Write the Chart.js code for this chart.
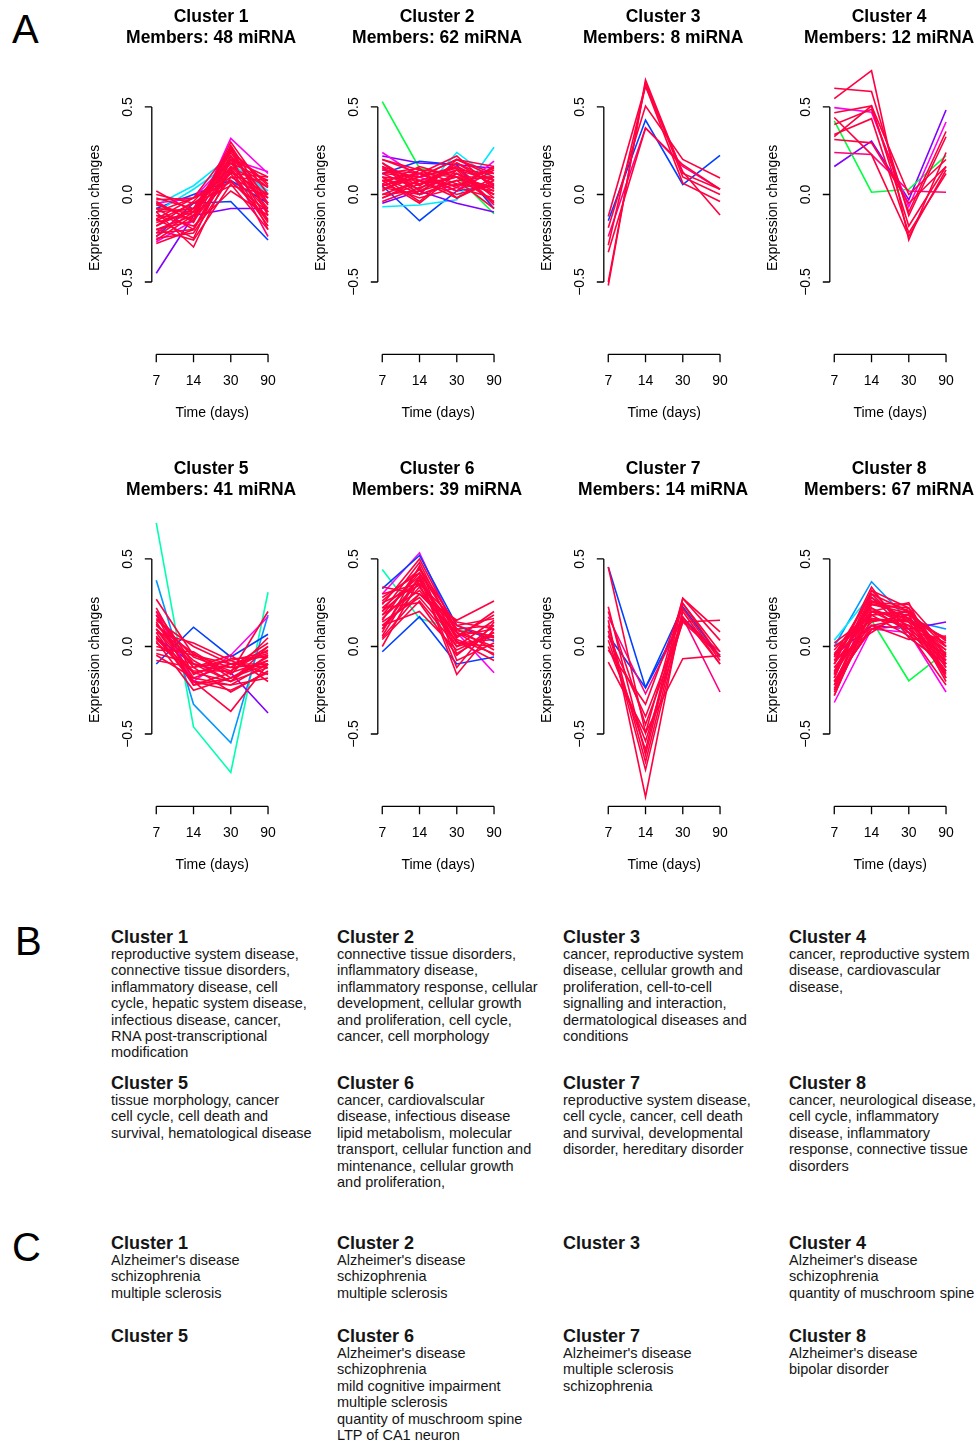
<!DOCTYPE html>
<html>
<head>
<meta charset="utf-8">
<script src="https://cdn.jsdelivr.net/npm/chart.js@4"></script>
<style>
  body { margin: 0; width: 979px; height: 1444px; overflow: hidden; background: #fff; position: relative;
         font-family: "Liberation Sans", Arial, Helvetica, sans-serif; color: #151515; }
  canvas { position: absolute; }
  .lab { position: absolute; font-size: 40px; line-height: 40px; color: #000; }
  .blk { position: absolute; white-space: nowrap; }
  .blk b { display: block; font-size: 18px; line-height: 18px; }
  .blk div { font-size: 14.5px; line-height: 16.4px; }
</style>
</head>
<body>
<div class="lab" style="left:12px;top:9px">A</div>
<div class="lab" style="left:15px;top:921px">B</div>
<div class="lab" style="left:12px;top:1227px">C</div>
<div id="txt"></div>
<script>
// x positions are the four sampling times
const timeIdx = [1, 2, 3, 4];
const timeLabels = ['7', '14', '30', '90'];
const yTicks = [-0.5, 0, 0.5];
const yTickLabels = ['\u22120.5', '0.0', '0.5'];

const clusterNames = ['Cluster 1', 'Cluster 2', 'Cluster 3', 'Cluster 4', 'Cluster 5', 'Cluster 6', 'Cluster 7', 'Cluster 8'];
const clusterMembers = ['Members: 48 miRNA', 'Members: 62 miRNA', 'Members: 8 miRNA', 'Members: 12 miRNA',
                        'Members: 41 miRNA', 'Members: 39 miRNA', 'Members: 14 miRNA', 'Members: 67 miRNA'];

const colours = { R: '#ff0040', K: '#ff0080', M: '#ff00f0', P: '#8000ff', B: '#0040ff',
                  S: '#0095ff', C: '#00e8ff', T: '#00ffb0', G: '#00ff40' };

// colour codes of the low-membership lines; every further line is red
const c1Cols = ['P','B','B','C','C','M','M','K'];
const c2Cols = ['G','B','C','C','P','P','B','M'];
const c3Cols = ['B','K'];
const c4Cols = ['P','G','M','K'];
const c5Cols = ['T','S','B','P','M'];
const c6Cols = ['T','M','B','B'];
const c7Cols = ['B','B','K'];
const c8Cols = ['G','S','P','M','C'];

// each row: expression change at 7, 14, 30, 90 days
const c1Lines = [
  [-0.45, -0.12, -0.08, -0.08], [-0.24, -0.05, -0.04, -0.26], [-0.08, 0.0, 0.08, -0.05],
  [-0.06, 0.05, 0.22, 0.0], [-0.1, 0.03, 0.18, 0.02], [-0.27, -0.15, 0.32, 0.12],
  [-0.05, -0.02, 0.2, 0.13], [-0.22, -0.08, 0.15, -0.24],
  [0.02, -0.1, 0.25, 0.05], [-0.05, -0.15, 0.28, -0.05], [-0.1, -0.3, 0.15, -0.1],
  [-0.28, -0.2, 0.2, -0.15], [-0.15, -0.05, 0.05, 0.0], [-0.2, -0.12, 0.22, -0.2],
  [0.0, -0.05, 0.1, 0.08], [-0.12, -0.18, 0.02, -0.12], [-0.08, -0.1, 0.18, -0.08],
  [-0.18, -0.08, 0.25, 0.06], [-0.25, -0.22, 0.1, -0.02], [-0.03, -0.02, 0.12, -0.18],
  [-0.14, -0.25, 0.2, 0.04], [-0.1, -0.02, 0.07, -0.1], [-0.2, -0.15, 0.13, 0.0],
  [-0.06, -0.12, 0.24, -0.06], [-0.16, -0.1, 0.27, -0.1], [-0.22, -0.2, 0.16, -0.05],
  [-0.02, -0.08, 0.2, 0.1], [-0.12, -0.14, 0.3, 0.0], [-0.26, -0.12, 0.08, -0.14],
  [-0.08, -0.2, 0.14, -0.16], [-0.18, -0.04, 0.18, 0.08], [-0.04, -0.16, 0.22, -0.02],
  [-0.2, -0.26, 0.06, -0.2], [-0.1, -0.08, 0.16, 0.04], [-0.14, -0.02, 0.26, -0.12],
  [-0.24, -0.1, 0.12, 0.1]
];
const c2Lines = [
  [0.53, 0.15, 0.1, -0.11], [0.05, -0.15, 0.02, 0.05], [-0.07, -0.06, -0.03, 0.27],
  [0.18, 0.0, 0.24, 0.08], [0.22, 0.18, 0.17, 0.15], [-0.05, 0.02, -0.05, -0.1],
  [0.12, 0.19, 0.17, -0.08], [0.24, 0.1, 0.02, 0.19],
  [0.15, 0.05, 0.18, 0.05], [0.05, 0.1, 0.15, -0.05], [0.1, 0.0, 0.2, 0.1],
  [-0.02, 0.08, 0.05, 0.15], [0.2, 0.12, 0.1, 0.0], [0.08, -0.05, 0.12, 0.02],
  [0.12, 0.15, -0.02, 0.08], [0.0, 0.02, 0.08, -0.08], [0.18, 0.06, 0.14, 0.12],
  [0.05, 0.12, 0.22, 0.03], [0.1, 0.08, 0.0, 0.06], [-0.04, 0.04, 0.1, 0.1],
  [0.14, 0.1, 0.16, -0.02], [0.06, -0.02, 0.04, 0.16], [0.02, 0.14, 0.12, 0.0],
  [0.12, 0.03, 0.18, 0.08], [0.08, 0.06, 0.1, 0.04], [0.16, 0.0, 0.08, 0.1],
  [0.03, 0.1, 0.2, 0.12], [0.2, 0.14, 0.06, 0.02], [0.1, -0.04, 0.14, -0.06],
  [-0.02, 0.06, 0.16, 0.06], [0.14, 0.12, 0.02, 0.14], [0.06, 0.16, 0.1, -0.04],
  [0.18, 0.02, 0.12, 0.0], [0.0, 0.08, -0.02, 0.1], [0.12, 0.1, 0.2, 0.16],
  [0.04, 0.0, 0.06, 0.04], [0.16, 0.08, 0.14, 0.08], [0.08, 0.12, 0.04, -0.02]
];
const c3Lines = [
  [-0.15, 0.425, 0.057, 0.224], [-0.24, 0.38, 0.16, 0.03], [-0.52, 0.655, 0.12, 0.03],
  [-0.5, 0.64, 0.1, 0.0], [-0.29, 0.62, 0.065, -0.04], [-0.19, 0.505, 0.2, 0.094],
  [-0.126, 0.62, 0.13, -0.117], [-0.33, 0.38, 0.17, 0.03]
];
const c4Lines = [
  [0.16, 0.305, -0.03, 0.483], [0.42, 0.013, 0.03, 0.222], [0.496, 0.47, -0.07, 0.414],
  [0.24, 0.228, 0.02, 0.013], [0.607, 0.588, -0.12, 0.33], [0.548, 0.707, -0.26, 0.24],
  [0.467, 0.506, -0.18, 0.16], [0.4, 0.487, -0.1, 0.36], [0.343, 0.433, -0.22, 0.12],
  [0.33, 0.506, 0.0, 0.2], [0.314, 0.295, -0.05, 0.16], [0.44, 0.228, -0.24, 0.14]
];
const c5Lines = [
  [0.706, -0.46, -0.72, 0.31], [0.378, -0.33, -0.55, 0.18], [-0.1, 0.11, -0.06, 0.07],
  [0.05, -0.1, -0.15, -0.38], [0.2, -0.2, -0.05, 0.17], [0.27, -0.05, -0.1, -0.05],
  [0.1, -0.2, -0.37, -0.1],
  [0.2, -0.1, -0.15, 0.2], [0.15, 0.0, -0.1, -0.1], [0.1, -0.15, -0.2, -0.05],
  [0.05, -0.2, -0.25, -0.15], [0.0, -0.05, -0.12, 0.02], [-0.05, -0.18, -0.1, -0.12],
  [0.12, -0.08, -0.2, 0.0], [0.18, -0.22, -0.15, -0.08], [-0.08, -0.12, -0.05, -0.2],
  [0.08, 0.02, -0.08, -0.03], [0.03, -0.25, -0.18, -0.1], [0.13, -0.12, -0.26, -0.14],
  [-0.02, -0.03, -0.16, 0.05], [0.22, -0.16, -0.07, -0.06], [0.06, -0.2, -0.22, -0.18],
  [0.16, -0.06, -0.14, -0.02], [0.1, -0.1, -0.12, -0.1], [0.02, -0.15, -0.1, -0.04],
  [0.14, -0.18, -0.22, -0.1], [0.08, -0.22, -0.18, -0.06], [-0.04, -0.1, -0.2, -0.12],
  [0.18, -0.12, -0.08, -0.16], [0.12, -0.04, -0.18, -0.08], [0.04, -0.14, -0.14, 0.0]
];
const c6Lines = [
  [0.44, 0.16, 0.1, 0.05], [0.3, 0.535, 0.08, -0.15], [-0.03, 0.17, -0.1, -0.06],
  [0.33, 0.52, 0.12, 0.03],
  [0.34, 0.3, 0.15, 0.26], [0.2, 0.48, 0.05, 0.2], [0.1, 0.4, -0.16, 0.1],
  [0.25, 0.35, 0.0, 0.15], [0.05, 0.3, 0.08, -0.05], [0.15, 0.45, 0.12, 0.05],
  [0.22, 0.25, -0.05, 0.12], [0.0, 0.38, 0.02, 0.0], [0.28, 0.42, 0.1, -0.02],
  [0.12, 0.2, -0.02, 0.08], [0.18, 0.32, 0.06, 0.18], [0.08, 0.46, -0.08, 0.02],
  [0.3, 0.36, 0.14, 0.1], [0.14, 0.28, 0.03, -0.08], [0.06, 0.4, -0.12, 0.14],
  [0.24, 0.5, 0.09, 0.06], [0.2, 0.38, 0.06, 0.1], [0.1, 0.34, 0.02, 0.04],
  [0.26, 0.44, 0.08, 0.0], [0.16, 0.36, 0.1, 0.12], [0.04, 0.26, 0.0, 0.06],
  [0.22, 0.4, 0.04, -0.04], [0.12, 0.3, 0.12, 0.16], [0.18, 0.42, -0.04, 0.08]
];
const c7Lines = [
  [0.454, -0.235, 0.227, -0.06], [0.063, -0.235, 0.165, -0.05], [0.17, -0.27, 0.165, -0.26],
  [0.454, -0.494, 0.275, 0.035], [0.227, -0.62, 0.246, -0.03], [0.2, -0.446, 0.14, 0.15],
  [0.15, -0.86, 0.217, -0.08], [0.09, -0.705, 0.17, -0.1], [0.035, -0.59, 0.275, 0.083],
  [0.0, -0.54, 0.14, -0.052], [-0.02, -0.33, 0.246, -0.06], [-0.09, -0.494, -0.07, -0.052],
  [0.12, -0.66, 0.2, -0.1], [0.06, -0.4, 0.15, -0.03]
];
const c8Lines = [
  [-0.05, 0.15, -0.196, -0.03], [0.0, 0.37, 0.15, 0.1], [-0.05, 0.12, 0.1, 0.14],
  [-0.32, 0.1, 0.08, -0.26], [0.035, 0.3, 0.05, -0.1],
  [-0.05, 0.3, 0.2, -0.05], [-0.15, 0.25, 0.24, 0.0], [-0.25, 0.2, 0.1, -0.15],
  [0.0, 0.15, 0.15, 0.05], [-0.1, 0.34, 0.05, -0.1], [-0.2, 0.1, 0.18, -0.2],
  [-0.28, 0.22, 0.12, 0.02], [-0.08, 0.08, 0.22, -0.08], [-0.18, 0.28, 0.08, -0.22],
  [0.02, 0.18, 0.2, -0.12], [-0.12, 0.12, 0.04, 0.06], [-0.22, 0.26, 0.16, -0.04],
  [-0.04, 0.2, 0.25, -0.18], [-0.16, 0.32, 0.1, -0.06], [-0.26, 0.16, 0.14, -0.14],
  [-0.06, 0.24, 0.19, 0.03], [-0.1, 0.2, 0.16, -0.02], [-0.2, 0.18, 0.2, -0.1],
  [-0.14, 0.28, 0.14, 0.0], [-0.06, 0.16, 0.12, -0.14], [-0.24, 0.24, 0.22, -0.06],
  [-0.12, 0.14, 0.18, 0.04], [-0.18, 0.3, 0.1, -0.16], [-0.02, 0.22, 0.08, -0.08],
  [-0.22, 0.12, 0.16, -0.12], [-0.08, 0.26, 0.2, 0.0], [-0.16, 0.18, 0.06, -0.04],
  [-0.28, 0.2, 0.18, -0.18], [-0.1, 0.32, 0.22, -0.1], [-0.2, 0.1, 0.12, -0.02]
];

const allLines = [c1Lines, c2Lines, c3Lines, c4Lines, c5Lines, c6Lines, c7Lines, c8Lines];
const allCols = [c1Cols, c2Cols, c3Cols, c4Cols, c5Cols, c6Cols, c7Cols, c8Cols];

// panel B and C texts
const ipaTerms = [
  ['reproductive system disease,', 'connective tissue disorders,', 'inflammatory disease, cell', 'cycle, hepatic system disease,', 'infectious disease, cancer,', 'RNA post-transcriptional', 'modification'],
  ['connective tissue disorders,', 'inflammatory disease,', 'inflammatory response, cellular', 'development, cellular growth', 'and proliferation, cell cycle,', 'cancer, cell morphology'],
  ['cancer, reproductive system', 'disease, cellular growth and', 'proliferation, cell-to-cell', 'signalling and interaction,', 'dermatological diseases and', 'conditions'],
  ['cancer, reproductive system', 'disease, cardiovascular', 'disease,'],
  ['tissue morphology, cancer', 'cell cycle, cell death and', 'survival, hematological disease'],
  ['cancer, cardiovalscular', 'disease, infectious disease', 'lipid metabolism, molecular', 'transport, cellular function and', 'mintenance, cellular growth', 'and proliferation,'],
  ['reproductive system disease,', 'cell cycle, cancer, cell death', 'and survival, developmental', 'disorder, hereditary disorder'],
  ['cancer, neurological disease,', 'cell cycle, inflammatory', 'disease, inflammatory', 'response, connective tissue', 'disorders']
];
const brainTerms = [
  ["Alzheimer's disease", 'schizophrenia', 'multiple sclerosis'],
  ["Alzheimer's disease", 'schizophrenia', 'multiple sclerosis'],
  [],
  ["Alzheimer's disease", 'schizophrenia', 'quantity of muschroom spine'],
  [],
  ["Alzheimer's disease", 'schizophrenia', 'mild cognitive impairment', 'multiple sclerosis', 'quantity of muschroom spine', 'LTP of CA1 neuron'],
  ["Alzheimer's disease", 'multiple sclerosis', 'schizophrenia'],
  ["Alzheimer's disease", 'bipolar disorder']
];

const FONT = '"Liberation Sans", Arial, Helvetica, sans-serif';

// R-style detached axes, drawn from the chart's own scales
const rAxes = {
  id: 'rAxes',
  afterDraw(chart) {
    const { ctx, chartArea: a, scales: { x, y } } = chart;
    const n = chart.options.plugins.rAxes;
    ctx.save();
    ctx.strokeStyle = '#000';
    ctx.fillStyle = '#000';
    ctx.lineWidth = 1.3;
    ctx.beginPath();
    ctx.moveTo(a.left, y.getPixelForValue(-0.5));
    ctx.lineTo(a.left, y.getPixelForValue(0.5));
    yTicks.forEach(v => {
      const p = y.getPixelForValue(v);
      ctx.moveTo(a.left, p);
      ctx.lineTo(a.left - 7, p);
    });
    ctx.moveTo(x.getPixelForValue(1), a.bottom);
    ctx.lineTo(x.getPixelForValue(4), a.bottom);
    timeIdx.forEach(v => {
      const p = x.getPixelForValue(v);
      ctx.moveTo(p, a.bottom);
      ctx.lineTo(p, a.bottom + 8);
    });
    ctx.stroke();

    ctx.font = '14px ' + FONT;
    ctx.textAlign = 'center';
    ctx.textBaseline = 'alphabetic';
    timeIdx.forEach((v, i) => ctx.fillText(timeLabels[i], x.getPixelForValue(v), a.bottom + 31));
    const cx = (a.left + a.right) / 2;
    ctx.fillText('Time (days)', cx, a.bottom + 63);

    yTicks.forEach((v, i) => {
      ctx.save();
      ctx.translate(a.left - 20, y.getPixelForValue(v));
      ctx.rotate(-Math.PI / 2);
      ctx.fillText(yTickLabels[i], 0, 0);
      ctx.restore();
    });
    ctx.save();
    ctx.translate(a.left - 53, (a.top + a.bottom) / 2 + 4);
    ctx.rotate(-Math.PI / 2);
    ctx.fillText('Expression changes', 0, 0);
    ctx.restore();

    ctx.font = 'bold 17.5px ' + FONT;
    ctx.fillText(n.name, cx - 1, 21.5);
    ctx.fillText(n.members, cx - 1, 43);
    ctx.restore();
  }
};

function makePanel(i) {
  const col = i % 4, row = Math.floor(i / 4);
  const cv = document.createElement('canvas');
  cv.width = 300;
  cv.height = 452;
  cv.style.left = (col * 226) + 'px';
  cv.style.top = (row * 452) + 'px';
  document.body.appendChild(cv);

  const datasets = allLines[i].map((vals, k) => ({
    data: vals.map((v, j) => ({ x: timeIdx[j], y: v })),
    borderColor: colours[allCols[i][k] || 'R'],
    borderWidth: 1.6,
    pointRadius: 0,
    fill: false,
    tension: 0
  })).reverse(); // first dataset is painted last, so reds end up on top

  new Chart(cv, {
    type: 'line',
    data: { datasets: datasets },
    options: {
      responsive: false,
      animation: false,
      events: [],
      clip: false,
      layout: { padding: { left: 151.8, right: 27.5, top: 53.4, bottom: 97.7 } },
      scales: {
        x: { type: 'linear', min: 0.88, max: 4.12, display: false },
        y: { type: 'linear', min: -0.913, max: 0.806, display: false }
      },
      plugins: {
        legend: { display: false },
        tooltip: { enabled: false },
        rAxes: { name: clusterNames[i], members: clusterMembers[i] }
      }
    },
    plugins: [rAxes]
  });
}

for (let i = 0; i < 8; i++) makePanel(i);

// text blocks for B and C
const txt = document.getElementById('txt');
function addBlock(left, top, title, lines) {
  const d = document.createElement('div');
  d.className = 'blk';
  d.style.left = left + 'px';
  d.style.top = top + 'px';
  let h = '<b>' + title + '</b>';
  lines.forEach(l => { h += '<div>' + l + '</div>'; });
  d.innerHTML = h;
  txt.appendChild(d);
}
const blockX = [111, 337, 563, 789];
const bTops = [928, 1074];
const cTops = [1234, 1327];
for (let i = 0; i < 8; i++) {
  addBlock(blockX[i % 4], bTops[Math.floor(i / 4)], clusterNames[i], ipaTerms[i]);
  addBlock(blockX[i % 4], cTops[Math.floor(i / 4)], clusterNames[i], brainTerms[i]);
}
</script>
</body>
</html>
